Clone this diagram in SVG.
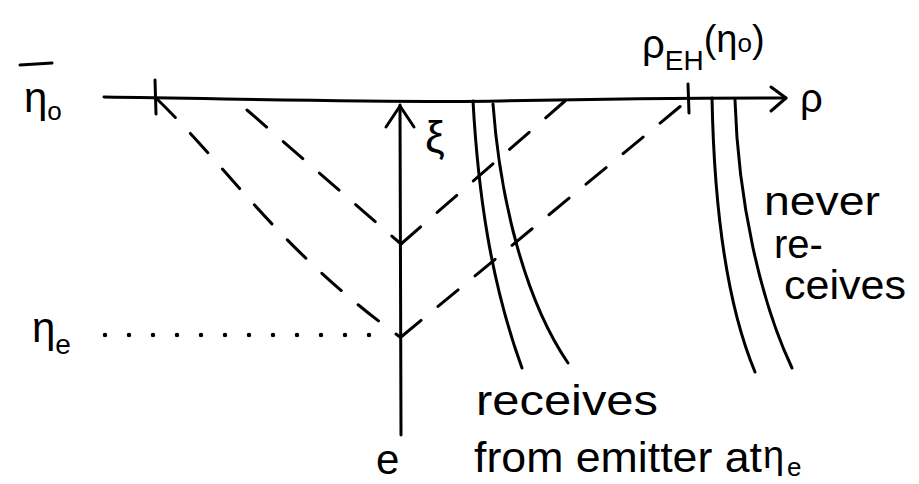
<svg xmlns="http://www.w3.org/2000/svg" width="919" height="484" viewBox="0 0 919 484">
<style>
  .ln{fill:none;stroke:#000;stroke-width:3;stroke-linecap:round;stroke-linejoin:round}
  .dash{fill:none;stroke:#000;stroke-width:3;stroke-linecap:round;stroke-dasharray:26 22}
  .dot{fill:none;stroke:#000;stroke-width:4.5;stroke-linecap:round;stroke-dasharray:0 24}
  .t{font-family:"Liberation Sans","DejaVu Sans",sans-serif;fill:#000}
</style>
<rect width="919" height="484" fill="#fff"/>
<g id="axes">
  <path class="ln" d="M104,97 C250,99 400,103 500,101 C600,99 700,98 786,98"/>
  <path class="ln" d="M771,87 L786,98 L771,111"/>
  <path class="ln" d="M155,80 L156,114"/>
  <path class="ln" d="M688,84 L689,113"/>
  <path class="ln" d="M400,105 L401,435"/>
  <path class="ln" d="M386,127 L400,106 L414,127"/>
</g>
<g id="light-rays">
  <path class="dash" d="M157,99 C230,170 280,250 400,337"/>
  <path class="dash" d="M247,110 L401,244"/>
  <path class="dash" d="M401,244 L565,101"/>
  <path class="dash" d="M401,337 L688,100"/>
  <path class="dot" d="M105,335 L393,335"/>
</g>
<g id="worldlines">
  <path class="ln" d="M473,101 C478,190 490,280 522,368"/>
  <path class="ln" d="M493,104 C500,200 525,300 568,363"/>
  <path class="ln" d="M712,98 C714,200 725,300 755,372"/>
  <path class="ln" d="M735,100 C738,200 760,300 792,368"/>
</g>
<g id="labels">
  <line class="ln" x1="20" y1="65" x2="52" y2="63"/>
  <text class="t" x="24" y="112" font-size="42">η<tspan font-size="26" dy="8">o</tspan></text>
  <text class="t" x="32" y="342" font-size="42">η<tspan font-size="28" dy="12">e</tspan></text>
  <text class="t" x="425" y="152" font-size="44">ξ</text>
  <text class="t" x="800" y="112" font-size="40">ρ</text>
  <text class="t" x="642" y="58" font-size="40">ρ<tspan font-size="28" dy="12">EH</tspan><tspan dy="-18" font-size="38">(η</tspan><tspan font-size="26">o</tspan><tspan font-size="38">)</tspan></text>
  <text class="t" x="764" y="215" font-size="40" textLength="116" lengthAdjust="spacingAndGlyphs">never</text>
  <text class="t" x="774" y="258" font-size="40">re-</text>
  <text class="t" x="784" y="299" font-size="40" textLength="122" lengthAdjust="spacingAndGlyphs">ceives</text>
  <text class="t" x="476" y="415" font-size="42" textLength="182" lengthAdjust="spacingAndGlyphs">receives</text>
  <text class="t" x="474" y="472" font-size="42" textLength="288" lengthAdjust="spacingAndGlyphs">from emitter at</text>
  <text class="t" x="763" y="468" font-size="38">η</text>
  <text class="t" x="787" y="476" font-size="26">e</text>
  <text class="t" x="376" y="474" font-size="42">e</text>
</g>
</svg>
